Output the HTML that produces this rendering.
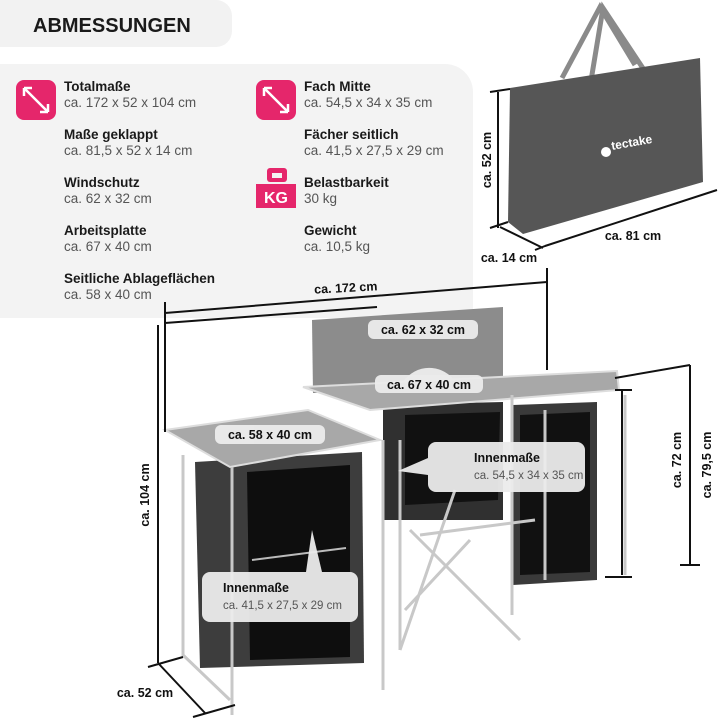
<!DOCTYPE html>
<html><head><meta charset="utf-8"><style>
body{margin:0;width:720px;height:720px;background:#fff;overflow:hidden;font-family:"Liberation Sans",sans-serif}
</style></head><body>
<svg width="720" height="720" viewBox="0 0 720 720" xmlns="http://www.w3.org/2000/svg" font-family="Liberation Sans, sans-serif">
<path d="M0 0H216a16 16 0 0 1 16 16V31a16 16 0 0 1 -16 16H0Z" fill="#f2f2f2"/>
<text x="33" y="32" font-size="20" font-weight="bold" fill="#1a1a1a">ABMESSUNGEN</text>
<path d="M0 64H445a28 28 0 0 1 28 28V318H0Z" fill="#f3f3f3"/>
<g>
<rect x="16" y="80" width="40" height="40" rx="8" fill="#e5266b"/>
<path d="M24 88L48 112M24 88l0 8M24 88l8 0M48 112l-8 0M48 112l0-8" stroke="#fff" stroke-width="2.5" fill="none"/>
<rect x="256" y="80" width="40" height="40" rx="8" fill="#e5266b"/>
<path d="M264 88L288 112M264 88l0 8M264 88l8 0M288 112l-8 0M288 112l0-8" stroke="#fff" stroke-width="2.5" fill="none"/>
<path d="M263 184l33 0 0 24 -40 0 0-24z" fill="#e5266b"/>
<rect x="267" y="168" width="20" height="14" rx="3" fill="#e5266b"/>
<rect x="272" y="173" width="10" height="5" fill="#f3f3f3"/>
<text x="276" y="203" font-size="16" font-weight="bold" fill="#fff" text-anchor="middle">KG</text>
</g>
<g font-size="13.5">
<text x="64" y="91" font-weight="bold" fill="#1a1a1a">Totalmaße</text><text x="64" y="107" fill="#555">ca. 172 x 52 x 104 cm</text>
<text x="64" y="139" font-weight="bold" fill="#1a1a1a">Maße geklappt</text><text x="64" y="155" fill="#555">ca. 81,5 x 52 x 14 cm</text>
<text x="64" y="187" font-weight="bold" fill="#1a1a1a">Windschutz</text><text x="64" y="203" fill="#555">ca. 62 x 32 cm</text>
<text x="64" y="235" font-weight="bold" fill="#1a1a1a">Arbeitsplatte</text><text x="64" y="251" fill="#555">ca. 67 x 40 cm</text>
<text x="64" y="283" font-weight="bold" fill="#1a1a1a">Seitliche Ablageflächen</text><text x="64" y="299" fill="#555">ca. 58 x 40 cm</text>
<text x="304" y="91" font-weight="bold" fill="#1a1a1a">Fach Mitte</text><text x="304" y="107" fill="#555">ca. 54,5 x 34 x 35 cm</text>
<text x="304" y="139" font-weight="bold" fill="#1a1a1a">Fächer seitlich</text><text x="304" y="155" fill="#555">ca. 41,5 x 27,5 x 29 cm</text>
<text x="304" y="187" font-weight="bold" fill="#1a1a1a">Belastbarkeit</text><text x="304" y="203" fill="#555">30 kg</text>
<text x="304" y="235" font-weight="bold" fill="#1a1a1a">Gewicht</text><text x="304" y="251" fill="#555">ca. 10,5 kg</text>
</g>
<!-- bag -->
<path d="M585 117L603 8L662 97M562 78L600 7L635 65" stroke="#8a8a8a" stroke-width="5" fill="none"/>
<path d="M510 88L700 58L703 182L523 234L508 222Z" fill="#565656"/>
<text x="612" y="150" font-size="12" fill="#fff" font-weight="bold" transform="rotate(-10 612 150)">tectake</text>
<circle cx="606" cy="152" r="5" fill="#fff"/>
<g stroke="#111" stroke-width="2" fill="none">
<path d="M490 92L510 89M498 92V228M490 228L508 222M500 227L543 248M535 250L545 246M545 246L717 190"/>
</g>
<text x="491" y="160" font-size="12.5" font-weight="bold" fill="#111" text-anchor="middle" transform="rotate(-90 491 160)">ca. 52 cm</text>
<text x="633" y="240" font-size="12.5" font-weight="bold" fill="#111" text-anchor="middle">ca. 81 cm</text>
<text x="509" y="262" font-size="12.5" font-weight="bold" fill="#111" text-anchor="middle">ca. 14 cm</text>
<!-- table -->
<path d="M312 320L503 307L503 393L313 393Z" fill="#8c8c8c"/>
<path d="M395 393Q410 366 432 368Q452 370 462 393Z" fill="#e8e8e8"/>
<path d="M383 405L503 402L503 520L383 520Z" fill="#303030"/>
<path d="M405 415L500 412L498 500L405 505Z" fill="#111"/>
<path d="M513 405L597 402L597 580L513 585Z" fill="#3a3a3a"/>
<path d="M520 415L590 412L590 572L520 575Z" fill="#111"/>
<path d="M195 462L362 452L364 663L200 668Z" fill="#3d3d3d"/>
<path d="M247 472L350 465L350 657L250 660Z" fill="#0e0e0e"/>
<path d="M252 560L346 548" stroke="#bbb" stroke-width="2"/>
<path d="M303 387L617 371L619 390L370 410Z" fill="#a8a8a8" stroke="#ddd" stroke-width="2"/>
<path d="M165 430L308 410L380 440L230 467Z" fill="#a8a8a8" stroke="#ddd" stroke-width="2"/>
<g stroke="#c8c8c8" stroke-width="3" fill="none">
<path d="M183 455V655L230 700M232 467V715M383 440V690M400 440V650M455 490L400 650M410 530L520 640M512 395V615M545 410V580M625 395V575M405 610L470 540M420 535L535 520"/>
</g>
<g stroke="#111" stroke-width="2" fill="none">
<path d="M165 302V432M547 268V370M165 313L547 282M165 323L377 307M158 325V663M148 667L183 657M158 663L205 713M193 717L235 705M622 390V575M615 390H632M605 577H632M690 365V565M615 378L690 365M680 565H700"/>
</g>
<text x="346" y="292" font-size="12.5" font-weight="bold" fill="#111" text-anchor="middle" transform="rotate(-3 346 292)">ca. 172 cm</text>
<text x="149" y="495" font-size="12.5" font-weight="bold" fill="#111" text-anchor="middle" transform="rotate(-90 149 495)">ca. 104 cm</text>
<text x="145" y="697" font-size="12.5" font-weight="bold" fill="#111" text-anchor="middle">ca. 52 cm</text>
<text x="681" y="460" font-size="12.5" font-weight="bold" fill="#111" text-anchor="middle" transform="rotate(-90 681 460)">ca. 72 cm</text>
<text x="711" y="465" font-size="12.5" font-weight="bold" fill="#111" text-anchor="middle" transform="rotate(-90 711 465)">ca. 79,5 cm</text>
<g fill="#ececec" opacity="0.95">
<rect x="368" y="320" width="110" height="19" rx="6"/>
<rect x="375" y="375" width="108" height="18" rx="6"/>
<rect x="215" y="425" width="110" height="19" rx="6"/>
<rect x="428" y="442" width="157" height="50" rx="8"/>
<path d="M428 458L398 471L428 475Z"/>
<rect x="202" y="572" width="156" height="50" rx="8"/>
<path d="M306 572L312 530L322 572Z"/>
</g>
<g font-size="12.5" fill="#111">
<text x="423" y="334" text-anchor="middle" font-weight="bold">ca. 62 x 32 cm</text>
<text x="429" y="389" text-anchor="middle" font-weight="bold">ca. 67 x 40 cm</text>
<text x="270" y="439" text-anchor="middle" font-weight="bold">ca. 58 x 40 cm</text>
<text x="474" y="462" font-weight="bold">Innenmaße</text>
<text x="474" y="479" fill="#555" font-size="11.5">ca. 54,5 x 34 x 35 cm</text>
<text x="223" y="592" font-weight="bold">Innenmaße</text>
<text x="223" y="609" fill="#555" font-size="11.5">ca. 41,5 x 27,5 x 29 cm</text>
</g>
</svg>
</body></html>
